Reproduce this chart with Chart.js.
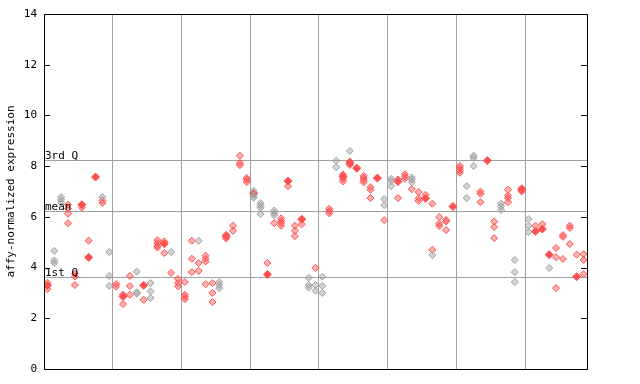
<!DOCTYPE html>
<html><head><meta charset="utf-8">
<script src="https://cdn.jsdelivr.net/npm/chart.js@4"></script>
<style>html,body{margin:0;padding:0;background:#fff}#wrap{width:640px;height:384px}</style>
</head><body><div id="wrap"><canvas id="c" width="640" height="384"></canvas></div>
<script>
const yTicks = [0, 2, 4, 6, 8, 10, 12, 14];
const groupBoundaries = [9.5, 19.5, 29.5, 39.5, 49.5, 59.5, 69.5];
const quartileLabels = ['3rd Q', 'mean', '1st Q'];
const quartileValues = [8.23, 6.22, 3.62];
const axisTitle = 'affy-normalized expression';

// [sample index, value]
const redOpen = [
  [0,3.4],[0,3.15],
  [3,6.48],[3,6.32],[3,6.12],[3,5.75],
  [4,3.76],[4,3.65],[4,3.31],
  [5,6.37],
  [6,5.06],
  [8,6.65],[8,6.55],
  [10,3.35],[10,3.25],
  [11,2.93],[11,2.56],
  [12,3.67],[12,3.27],[12,2.93],
  [14,2.73],
  [16,5.08],[16,4.97],[16,4.86],[16,4.79],
  [17,5.03],[17,4.57],
  [18,3.79],
  [19,3.55],[19,3.39],[19,3.26],
  [20,3.43],[20,2.93],[20,2.84],[20,2.75],
  [21,5.06],[21,4.35],[21,3.82],
  [22,4.18],[22,3.87],
  [23,4.47],[23,4.35],[23,4.24],[23,3.34],
  [24,3.39],[24,3.0],[24,2.64],
  [26,5.29],[26,5.15],
  [27,5.65],[27,5.45],
  [28,8.41],[28,8.12],[28,8.04],
  [29,7.53],[29,7.47],[29,7.37],
  [32,4.18],
  [33,5.75],
  [34,5.94],[34,5.84],[34,5.75],[34,5.65],
  [35,7.21],
  [36,5.65],[36,5.45],[36,5.24],
  [37,5.71],
  [39,3.99],
  [41,6.32],[41,6.23],[41,6.14],
  [43,7.67],[43,7.49],[43,7.40],
  [44,8.18],[44,8.05],
  [46,7.62],[46,7.53],[46,7.44],[46,7.36],
  [47,7.17],[47,7.07],[47,6.74],
  [49,5.87],
  [51,7.47],[51,6.74],
  [52,7.68],[52,7.59],[52,7.50],
  [53,7.09],
  [54,6.98],[54,6.73],[54,6.63],
  [55,6.87],
  [56,6.52],[56,4.70],
  [57,5.99],[57,5.73],[57,5.64],
  [58,5.88],[58,5.82],[58,5.48],
  [60,8.01],[60,7.92],[60,7.83],[60,7.74],
  [63,7.0],[63,6.91],[63,6.58],
  [65,5.82],[65,5.60],[65,5.16],
  [67,7.07],[67,6.84],[67,6.74],[67,6.58],
  [69,7.13],[69,7.0],
  [71,5.65],
  [72,5.71],
  [74,4.77],[74,4.41],[74,3.19],
  [75,5.28],[75,5.21],[75,4.34],
  [76,5.65],[76,5.56],[76,4.93],
  [77,4.51],
  [78,4.53],[78,4.30],[78,3.74]
];
const redFilled = [
  [0,3.3],[5,6.48],[6,4.40],[7,7.57],[11,2.86],[14,3.30],[17,4.94],[26,5.23],
  [30,6.93],[32,3.73],[35,7.41],[37,5.91],[43,7.59],[44,8.12],[45,7.92],[48,7.53],
  [51,7.39],[55,6.73],[59,6.41],[64,8.22],[69,7.07],[71,5.43],[72,5.52],[73,4.51],[77,3.64]
];
const greyOpen = [
  [1,4.66],[1,4.28],[1,4.18],
  [2,6.78],[2,6.67],[2,6.57],
  [8,6.78],
  [9,4.61],[9,3.67],[9,3.28],
  [13,3.84],[13,3.03],[13,2.97],
  [15,3.39],[15,3.06],[15,2.80],
  [18,4.61],
  [22,5.06],
  [25,3.43],[25,3.31],[25,3.19],
  [30,7.03],[30,6.84],[30,6.75],
  [31,6.54],[31,6.45],[31,6.36],[31,6.11],
  [33,6.25],[33,6.15],[33,6.06],
  [38,3.60],[38,3.31],[38,3.21],
  [39,3.31],[39,3.09],
  [40,3.64],[40,3.28],[40,3.0],
  [42,8.21],[42,7.96],
  [44,8.6],
  [49,6.70],[49,6.46],
  [50,7.50],[50,7.41],[50,7.21],
  [53,7.55],[53,7.47],[53,7.36],
  [56,4.49],
  [61,7.21],[61,6.74],
  [62,8.41],[62,8.32],[62,8.0],
  [66,6.52],[66,6.41],[66,6.27],
  [68,4.30],[68,3.82],[68,3.43],
  [70,5.91],[70,5.65],[70,5.40],
  [73,3.98]
];

const RED = '#ff5050';
const GREY = '#a0a0a0';
const MONO = "'DejaVu Sans Mono', monospace";
const toXY = arr => arr.map(p => ({x: p[0], y: p[1]}));

const framePlugin = {
  id: 'frame',
  beforeDatasetsDraw(chart) {
    const {ctx, chartArea: a, scales: {y}} = chart;
    ctx.save();
    ctx.strokeStyle = GREY;
    ctx.lineWidth = 1;
    quartileValues.forEach(v => {
      const py = Math.round(y.getPixelForValue(v)) + 0.5;
      ctx.beginPath(); ctx.moveTo(a.left, py); ctx.lineTo(a.right, py); ctx.stroke();
    });
    ctx.restore();
  },
  afterDraw(chart) {
    const {ctx, chartArea: a, scales: {y}} = chart;
    ctx.save();
    ctx.strokeStyle = '#000';
    ctx.lineWidth = 1;
    ctx.strokeRect(Math.round(a.left) + 0.5, Math.round(a.top) + 0.5,
      Math.round(a.right - a.left), Math.round(a.bottom - a.top));
    yTicks.forEach(v => {
      const py = Math.round(y.getPixelForValue(v)) + 0.5;
      ctx.beginPath();
      ctx.moveTo(a.left, py); ctx.lineTo(a.left + 6, py);
      ctx.moveTo(a.right - 6, py); ctx.lineTo(a.right, py);
      ctx.stroke();
    });
    ctx.fillStyle = '#000';
    ctx.font = '11px ' + MONO;
    ctx.textAlign = 'left';
    ctx.textBaseline = 'alphabetic';
    quartileValues.forEach((v, i) => {
      const py = Math.round(y.getPixelForValue(v));
      ctx.fillText(quartileLabels[i], a.left + 1, py - 1);
    });
    ctx.restore();
  }
};

const openStyle = c => ({
  pointStyle: 'rectRot', pointRadius: 3.5, pointHoverRadius: 3.5,
  borderColor: c, backgroundColor: c === RED ? 'rgba(255,80,80,0.45)' : 'rgba(160,160,160,0.45)',
  pointBorderWidth: 1, showLine: false
});

new Chart(document.getElementById('c'), {
  type: 'scatter',
  data: {
    datasets: [
      Object.assign({label: 'grey', data: toXY(greyOpen)}, openStyle(GREY)),
      Object.assign({label: 'red', data: toXY(redOpen)}, openStyle(RED)),
      {label: 'redFilled', data: toXY(redFilled), pointStyle: 'rectRot', pointRadius: 4, pointHoverRadius: 4,
       borderColor: RED, backgroundColor: RED, pointBorderWidth: 1, showLine: false}
    ]
  },
  options: {
    responsive: false,
    devicePixelRatio: 1,
    animation: false,
    events: [],
    layout: {padding: {top: 14, right: 53, left: 0, bottom: 0}},
    plugins: {legend: {display: false}, tooltip: {enabled: false}},
    scales: {
      x: {
        type: 'linear', min: -0.5, max: 78.5,
        afterBuildTicks: s => { s.ticks = groupBoundaries.map(v => ({value: v})); },
        afterFit: s => { s.height = 15; },
        ticks: {display: false},
        grid: {color: GREY, lineWidth: 1, drawTicks: false},
        border: {display: false}
      },
      y: {
        type: 'linear', min: 0, max: 14,
        afterBuildTicks: s => { s.ticks = yTicks.map(v => ({value: v})); },
        afterFit: s => { s.width = 44; },
        ticks: {color: '#000', font: {family: MONO, size: 11}, padding: 7},
        grid: {display: false, drawTicks: false},
        border: {display: false},
        title: {display: true, text: axisTitle, color: '#000', font: {family: MONO, size: 11}, padding: {top: 5, bottom: 0}}
      }
    }
  },
  plugins: [framePlugin]
});
</script>
</body></html>
